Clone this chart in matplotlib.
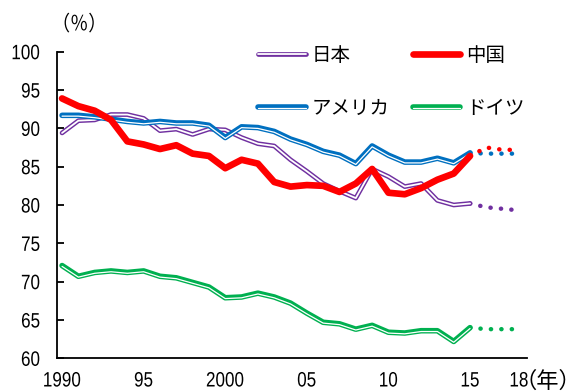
import matplotlib
matplotlib.use("Agg")
import matplotlib.pyplot as plt
import matplotlib.patheffects as pe
from matplotlib.transforms import Affine2D

years = list(range(1990, 2016))
proj_years = [2015, 2016, 2017, 2018]

japan = [89.4, 91.0, 91.1, 91.8, 91.8, 91.3, 89.7, 89.9, 89.2, 89.9, 89.8, 88.8, 88.0, 87.7,
         85.9, 84.4, 82.8, 81.8, 80.9, 84.7, 83.7, 82.4, 82.8, 80.6, 80.0, 80.2]
china = [93.9, 92.9, 92.3, 91.1, 88.3, 87.9, 87.3, 87.8, 86.7, 86.4, 84.8, 85.9, 85.4, 83.0,
         82.4, 82.6, 82.5, 81.7, 82.8, 84.7, 81.6, 81.4, 82.2, 83.3, 84.1, 86.4]
usa = [91.7, 91.7, 91.5, 91.2, 90.9, 90.7, 90.9, 90.7, 90.7, 90.4, 88.8, 90.2, 90.1, 89.6,
       88.6, 87.9, 87.0, 86.5, 85.4, 87.7, 86.5, 85.6, 85.6, 86.1, 85.5, 86.8]
germany = [72.1, 70.7, 71.2, 71.4, 71.2, 71.4, 70.7, 70.5, 69.9, 69.3, 67.9, 68.0, 68.5, 68.0,
           67.2, 65.9, 64.7, 64.5, 63.8, 64.3, 63.4, 63.3, 63.6, 63.6, 62.2, 64.0]

japan_proj = [80.2, 79.7, 79.5, 79.3]
china_proj = [86.4, 87.5, 87.2, 87.2]
usa_proj = [86.8, 86.7, 86.7, 86.7]
germany_proj = [64.0, 63.8, 63.8, 63.8]

labels = ["日本", "中国", "アメリカ", "ドイツ"]
xtick_pos = [1990, 1995, 2000, 2005, 2010, 2015, 2018]
xtick_lab = ["1990", "95", "2000", "05", "10", "15", "18"]
yticks = [60, 65, 70, 75, 80, 85, 90, 95, 100]
unit_y = "（％）"
unit_x = "（年）"

c_jp = "#7030A0"
c_cn = "#FF0000"
c_us = "#0070C0"
c_de = "#00B050"

cjk = ["Noto Sans CJK JP", "DejaVu Sans"]
numfont = ["Liberation Sans", "DejaVu Sans"]


class Condense(pe.AbstractPathEffect):
    """Horizontally condense a text path around an anchor (left/center/right)."""
    def __init__(self, sx=0.82, anchor="center"):
        super().__init__()
        self.sx = sx
        self.anchor = anchor

    def draw_path(self, renderer, gc, tpath, affine, rgbFace=None):
        v = affine.transform(tpath.vertices)
        if len(v):
            xmin, xmax = v[:, 0].min(), v[:, 0].max()
        else:
            xmin = xmax = 0
        x0 = {"left": xmin, "right": xmax}.get(self.anchor, 0.5 * (xmin + xmax))
        new = affine + Affine2D().translate(-x0, 0).scale(self.sx, 1).translate(x0, 0)
        renderer.draw_path(gc, tpath, new, rgbFace)


fig = plt.figure(figsize=(5.71, 3.92), dpi=100)
ax = fig.add_axes([57 / 571, 1 - 358.3 / 392, (527 - 57) / 571, (358.3 - 51.7) / 392])


def dbl(wlw, off):
    return [pe.Normal(), pe.Stroke(linewidth=wlw, foreground="white", offset=(0, off))]


dot_style = dict(linestyle=(0, (0.05, 2.3)), dash_capstyle="round", lw=3.2)

ax.plot(proj_years, japan_proj, color=c_jp, **dot_style)
ax.plot(proj_years, usa_proj, color=c_us, **dot_style)
ax.plot(proj_years, china_proj, color=c_cn, **dot_style)
ax.plot(proj_years, germany_proj, color=c_de, **dot_style)

l_jp, = ax.plot(years, japan, color=c_jp, lw=3.4, solid_capstyle="round",
                path_effects=dbl(1.3, 0), label=labels[0])
l_us, = ax.plot(years, usa, color=c_us, lw=4.0, solid_capstyle="round",
                path_effects=dbl(0.9, -0.6), label=labels[2])
l_de, = ax.plot(years, germany, color=c_de, lw=4.0, solid_capstyle="round",
                path_effects=dbl(0.9, -0.6), label=labels[3])
l_cn, = ax.plot(years, china, color=c_cn, lw=4.8, solid_capstyle="round", label=labels[1])

ax.set_xlim(1989.69, 2018.49)
ax.set_ylim(60, 100)
ax.set_yticks(yticks)
ax.set_xticks(xtick_pos)
ax.set_xticklabels(xtick_lab)
for s in ["top", "right"]:
    ax.spines[s].set_visible(False)
for s in ["left", "bottom"]:
    ax.spines[s].set_linewidth(1.3)
ax.tick_params(axis="y", direction="in", length=5, width=1.3, pad=12)
ax.tick_params(axis="x", length=0, pad=9.5)
for t in ax.get_yticklabels():
    t.set_fontfamily(numfont)
    t.set_fontsize(15)
    t.set_path_effects([Condense(0.82, "right")])
for t in ax.get_xticklabels():
    t.set_fontfamily(numfont)
    t.set_fontsize(15)
    t.set_path_effects([Condense(0.82, "center")])

fig.text(52 / 571, 1 - 24.5 / 392, unit_y, fontsize=15, family=cjk, ha="left", va="center",
         path_effects=[Condense(0.87, "left")])
fig.text(515 / 571, 1 - 381 / 392, unit_x, fontsize=16, family=cjk, ha="left", va="center")

leg = ax.legend([l_jp, l_us, l_cn, l_de], [labels[0], labels[2], labels[1], labels[3]],
                ncol=2, loc="upper left", bbox_to_anchor=(258 / 571, 1 - 45 / 392),
                bbox_transform=fig.transFigure, frameon=False, borderpad=0, borderaxespad=0,
                handlelength=2.45, handletextpad=0.3, columnspacing=1.2, labelspacing=1.65,
                prop={"family": cjk, "size": 14})

fig.savefig("out.png", dpi=100)
